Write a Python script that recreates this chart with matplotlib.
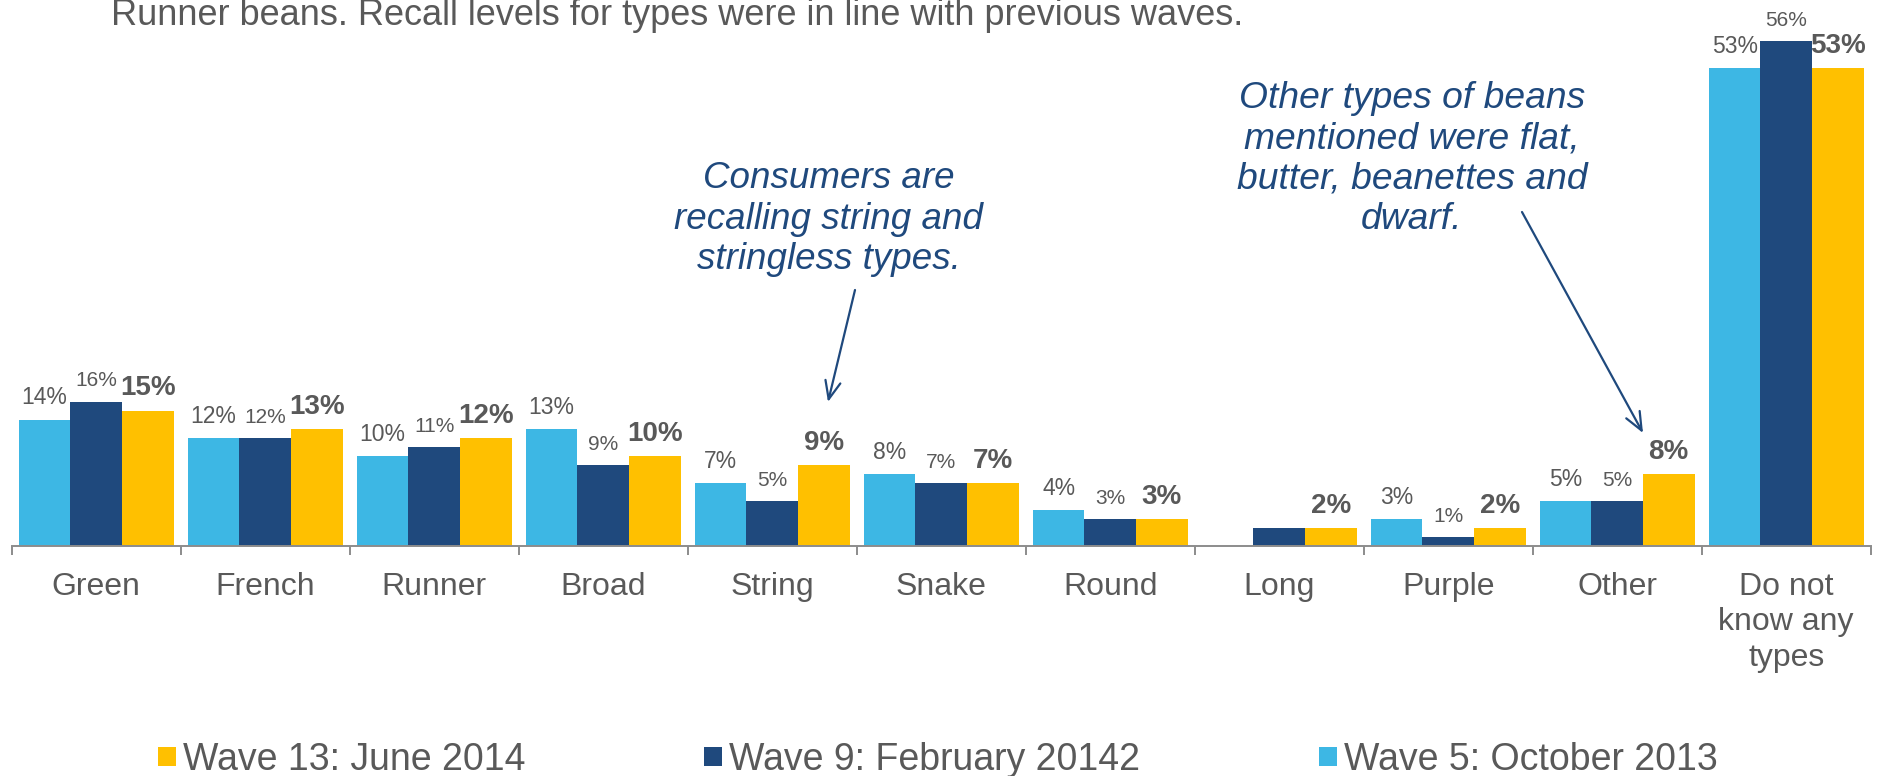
import matplotlib
matplotlib.use("Agg")
import matplotlib.pyplot as plt
import numpy as np
from matplotlib.patches import Rectangle

plt.rcParams['font.family'] = ['Liberation Sans', 'DejaVu Sans']

categories = ["Green", "French", "Runner", "Broad", "String", "Snake", "Round",
              "Long", "Purple", "Other", "Do not\nknow any\ntypes"]
wave5 = [14, 12, 10, 13, 7, 8, 4, np.nan, 3, 5, 53]
wave9 = [16, 12, 11, 9, 5, 7, 3, 2, 1, 5, 56]
wave13 = [15, 13, 12, 10, 9, 7, 3, 2, 2, 8, 53]
wave9_unlabelled = ["Long"]

series_names = ["Wave 13: June 2014", "Wave 9: February 20142", "Wave 5: October 2013"]

C_LIGHT = "#3DB7E4"
C_DARK = "#1F497D"
C_GOLD = "#FFC000"
C_TEXT = "#595959"
C_AXIS = "#8C8C8C"

W, H = 1879, 776
fig = plt.figure(figsize=(W / 100, H / 100), dpi=100)
ax = fig.add_axes([11.7 / W, (H - 546) / H, (1870.7 - 11.7) / W, 541 / H])

x = np.arange(len(categories))
bw = 0.305
b5 = ax.bar(x - bw, wave5, bw, color=C_LIGHT, linewidth=0)
b9 = ax.bar(x, wave9, bw, color=C_DARK, linewidth=0)
b13 = ax.bar(x + bw, wave13, bw, color=C_GOLD, linewidth=0)

ax.set_xlim(-0.5, len(categories) - 0.5)
ax.set_ylim(0, 60)

# value labels above each bar
def label_bars(xs, vals, size, weight, skip=()):
    for xi, v, cat in zip(xs, vals, categories):
        if np.isnan(v) or cat in skip:
            continue
        ax.annotate(f"{int(v)}%", xy=(xi, v), xytext=(0, 11),
                    textcoords="offset points", ha="center", va="baseline",
                    fontsize=size, fontweight=weight, color=C_TEXT)

label_bars(x - bw, wave5, 16.5, "normal")
label_bars(x, wave9, 15, "normal", skip=wave9_unlabelled)
label_bars(x + bw, wave13, 20, "bold")

# axes styling
for s in ["top", "right", "left"]:
    ax.spines[s].set_visible(False)
ax.spines["bottom"].set_color(C_AXIS)
ax.spines["bottom"].set_linewidth(1.4)
ax.set_yticks([])
ax.set_xticks(x)
ax.set_xticklabels(categories, fontsize=23, color=C_TEXT, linespacing=1.25)
ax.tick_params(axis="x", which="major", length=0, pad=18.5)
ax.set_xticks(np.arange(-0.5, len(categories), 1.0), minor=True)
ax.tick_params(axis="x", which="minor", length=6.5, width=1.4, color=C_AXIS,
               direction="out")

# heading line (partially above the canvas)
fig.text(111 / W, (H - 25) / H,
         "Runner beans. Recall levels for types were in line with previous waves.",
         fontsize=26, color=C_TEXT, ha="left", va="baseline")

# callouts (anchored on the baseline of their last line)
fig.text(829 / W, (H - 269) / H,
         "Consumers are\nrecalling string and\nstringless types.",
         fontsize=26.5, style="italic", color=C_DARK, ha="center", va="baseline",
         linespacing=1.2)
fig.text(1412 / W, (H - 229) / H,
         "Other types of beans\nmentioned were flat,\nbutter, beanettes and\ndwarf.",
         fontsize=26.8, style="italic", color=C_DARK, ha="center", va="baseline",
         linespacing=1.2)

arrow_style = dict(arrowstyle="->,head_length=1.3,head_width=0.55", color=C_DARK,
                   lw=1.6, shrinkA=0, shrinkB=0)
ax.annotate("", xy=(828, H - 402), xycoords="figure pixels",
            xytext=(855, H - 290), textcoords="figure pixels",
            arrowprops=arrow_style)
ax.annotate("", xy=(1643, H - 433), xycoords="figure pixels",
            xytext=(1522, H - 212), textcoords="figure pixels",
            arrowprops=arrow_style)

# legend
legend_items = [(b13, 158), (b9, 704), (b5, 1319)]
for (bars, x0), name in zip(legend_items, series_names):
    col = bars.patches[0].get_facecolor()
    fig.patches.append(Rectangle((x0 / W, (H - 766) / H), 18 / W, 19 / H,
                                 transform=fig.transFigure, facecolor=col,
                                 edgecolor="none"))
    fig.text((x0 + 25) / W, (H - 770) / H, name, fontsize=27, color=C_TEXT,
             ha="left", va="baseline")

fig.savefig("out.png", dpi=100)
